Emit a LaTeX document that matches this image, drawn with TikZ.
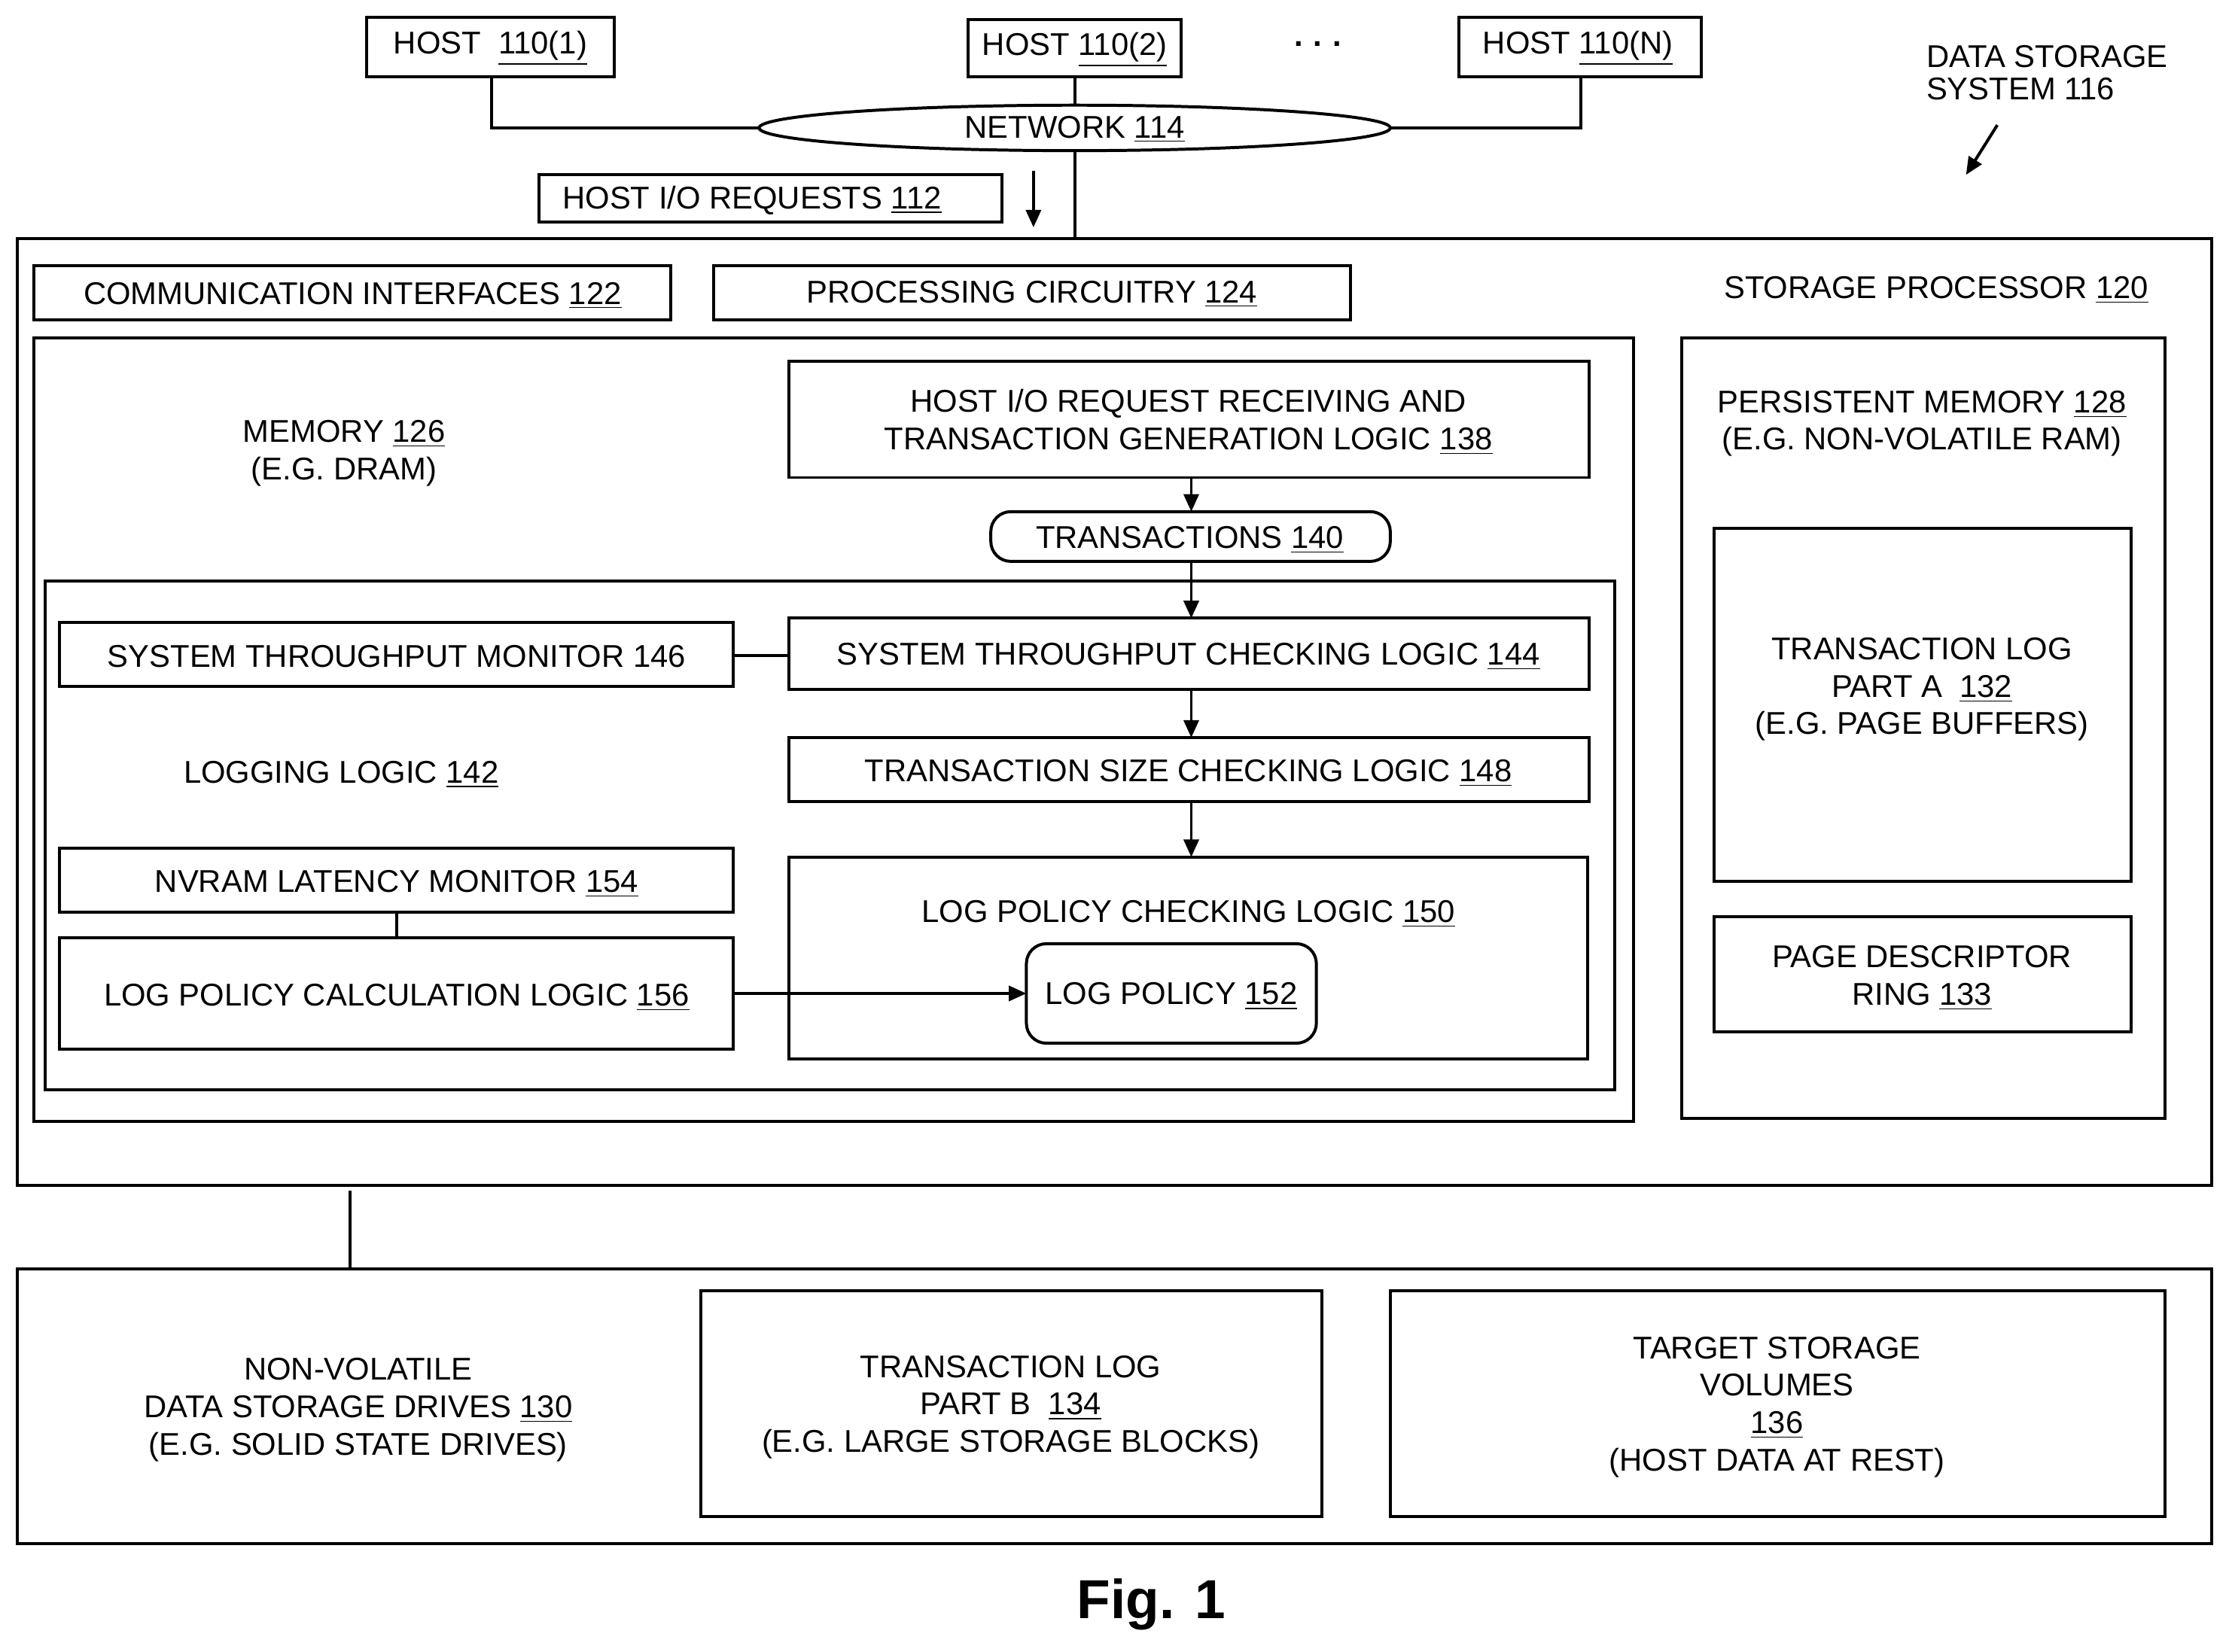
\documentclass[tikz,border=0pt]{standalone}
\usepackage{fontspec}
\setmainfont{Liberation Sans}
\usetikzlibrary{arrows.meta}
\begin{document}
\begin{tikzpicture}[x=0.02cm,y=-0.02cm,
  box/.style={draw,line width=1.2pt},
  rbox/.style={draw,line width=1.2pt,rounded corners=8pt},
  ln/.style={line width=1.2pt},
  arr/.style={line width=1.2pt,-{Triangle[length=7pt,width=6pt]}},
  txt/.style={align=center,font=\fontsize{12.6}{15}\selectfont}]
\useasboundingbox (0,0) rectangle (1568,1162);
% hosts
\draw[box] (258,12) rectangle (432,54);
\node[txt] (h1) at (345,34) {HOST\ \ \underline{110(1)}};
\draw[box] (681,14) rectangle (831,54);
\node[txt] (h2) at (756,35) {HOST \underline{110(2)}};
\node[txt] (dots) at (927,31) {\textbf{.\,\,.\,\,.}};
\draw[box] (1026,12) rectangle (1197,54);
\node[txt] (hn) at (1110,34) {HOST \underline{110(N)}};
\draw[ln] (756,90) ellipse [x radius=222, y radius=16];
\node[txt] (net) at (756,91) {NETWORK \underline{114}};
\draw[ln] (346,54) -- (346,90) -- (534,90);
\draw[ln] (756,54) -- (756,74);
\draw[ln] (1112,54) -- (1112,90) -- (978,90);
\draw[ln] (756,106) -- (756,168);
\draw[box] (379,123) rectangle (705,156);
\node[txt] (hio) at (529,141) {HOST I/O REQUESTS \underline{112}};
\coordinate (a1) at (727,120); \coordinate (a2) at (727,160);
\draw[arr] (a1) -- (a2);
\node[txt,align=left] (dss) at (1440,51) {DATA STORAGE\\[-2pt]SYSTEM 116};
\coordinate (d1) at (1405,88); \coordinate (d2) at (1383,123);
\draw[arr] (d1) -- (d2);
% storage processor
\draw[box] (12,168) rectangle (1556,834);
\draw[box] (24,187) rectangle (472,225);
\node[txt] (ci) at (248,208) {COMMUNICATION INTERFACES \underline{122}};
\draw[box] (502,187) rectangle (950,225);
\node[txt] (pc) at (726,207) {PROCESSING CIRCUITRY \underline{124}};
\node[txt] (sp) at (1362,204) {STORAGE PROCESSOR \underline{120}};
% memory
\draw[box] (24,238) rectangle (1149,789);
\node[txt] (mem) at (242,319) {MEMORY \underline{126}\\(E.G. DRAM)};
\draw[box] (555,254) rectangle (1118,336);
\node[txt] (rcv) at (836,297) {HOST I/O REQUEST RECEIVING AND\\TRANSACTION GENERATION LOGIC \underline{138}};
\draw[rbox] (697,360) rectangle (978,395);
\node[txt] (tr) at (837,380) {TRANSACTIONS \underline{140}};
\draw[box] (32,409) rectangle (1136,767);
\draw[box] (42,438) rectangle (516,483);
\node[txt] (stm) at (279,462) {SYSTEM THROUGHPUT MONITOR 146};
\draw[box] (555,435) rectangle (1118,485);
\node[txt] (stc) at (836,462) {SYSTEM THROUGHPUT CHECKING LOGIC \underline{144}};
\draw[ln] (516,461) -- (555,461);
\node[txt] (ll) at (240,545) {LOGGING LOGIC \underline{142}};
\draw[box] (555,519) rectangle (1118,564);
\node[txt] (tsc) at (836,544) {TRANSACTION SIZE CHECKING LOGIC \underline{148}};
\draw[box] (42,597) rectangle (516,642);
\node[txt] (nv) at (279,622) {NVRAM LATENCY MONITOR \underline{154}};
\draw[box] (42,660) rectangle (516,738);
\node[txt] (lpc) at (279,702) {LOG POLICY CALCULATION LOGIC \underline{156}};
\draw[ln] (279,642) -- (279,660);
\draw[box] (555,603) rectangle (1117,745);
\node[txt] (lpk) at (836,643) {LOG POLICY CHECKING LOGIC \underline{150}};
\draw[rbox] (722,664) rectangle (926,734);
\node[txt] (lp) at (824,701) {LOG POLICY \underline{152}};
\draw[arr] (516,699) -- (722,699);
\draw[arr] (838,336) -- (838,360);
\draw[arr] (838,395) -- (838,435);
\draw[arr] (838,485) -- (838,519);
\draw[arr] (838,564) -- (838,603);
% persistent memory
\draw[box] (1183,238) rectangle (1523,787);
\node[txt] (pm) at (1352,298) {PERSISTENT MEMORY \underline{128}\\(E.G. NON-VOLATILE RAM)};
\draw[box] (1206,372) rectangle (1499,620);
\node[txt] (tla) at (1352,485) {TRANSACTION LOG\\PART A\ \ \underline{132}\\(E.G. PAGE BUFFERS)};
\draw[box] (1206,645) rectangle (1499,726);
\node[txt] (pdr) at (1352,688) {PAGE DESCRIPTOR\\RING \underline{133}};
% bottom
\draw[ln] (246,838) -- (246,893);
\draw[box] (12,893) rectangle (1556,1086);
\node[txt] (nvd) at (252,992) {NON-VOLATILE\\DATA STORAGE DRIVES \underline{130}\\(E.G. SOLID STATE DRIVES)};
\draw[box] (493,908) rectangle (930,1067);
\node[txt] (tlb) at (711,990) {TRANSACTION LOG\\PART B\ \ \underline{134}\\(E.G. LARGE STORAGE BLOCKS)};
\draw[box] (978,908) rectangle (1523,1067);
\node[txt] (tsv) at (1250,990) {TARGET STORAGE\\VOLUMES\\\underline{136}\\(HOST DATA AT REST)};
\node[font=\fontsize{22}{26}\selectfont\bfseries] (fig) at (810,1129) {Fig. 1};
\end{tikzpicture}
\end{document}
